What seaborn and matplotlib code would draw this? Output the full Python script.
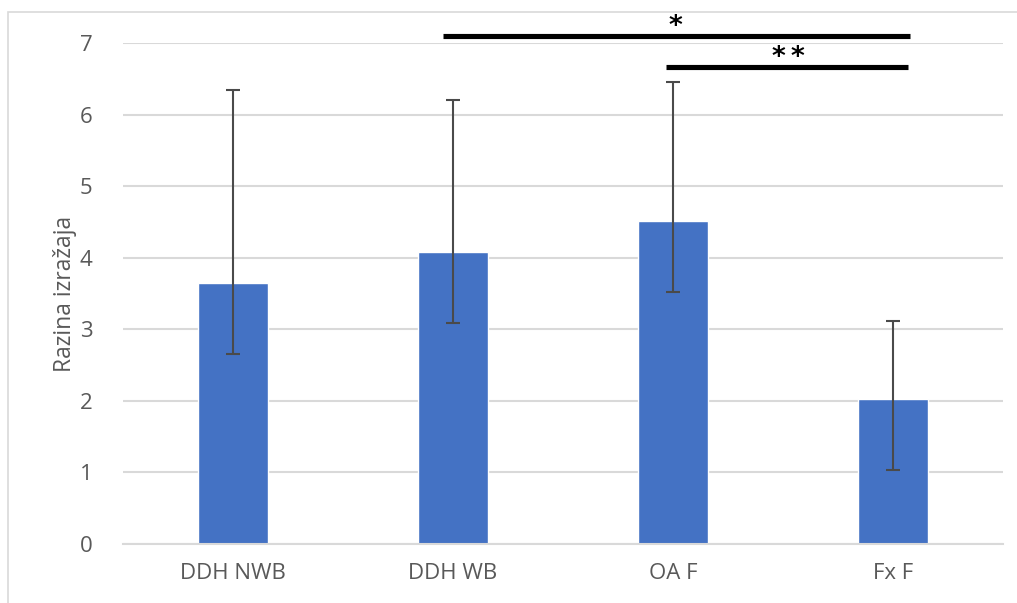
import matplotlib
matplotlib.use("Agg")
import matplotlib.pyplot as plt
import seaborn as sns
import pandas as pd
from matplotlib.patches import Rectangle

# values
groups = ["DDH NWB", "DDH WB", "OA F", "Fx F"]
means = [3.65, 4.08, 4.52, 2.03]
err_low = [1.0, 0.99, 1.0, 1.0]
err_high = [2.69, 2.12, 1.93, 1.08]

# significance bars: (start, end, level, label)
sig_start = [0.955, 1.97]
sig_end = [3.08, 3.07]
sig_level = [7.1, 6.67]
sig_label = ["*", "**"]
sig_text_x = [2.01, 2.525]

df = pd.DataFrame({"group": groups, "mean": means})

sns.set_theme(style="white")
plt.rcParams["font.family"] = ["Open Sans", "DejaVu Sans"]

fig = plt.figure(figsize=(10.17, 6.03), dpi=100)
ax = fig.add_axes([0.121, 0.0978, 0.865, 0.8309])

grid_c = "#d9d9d9"
text_c = "#595959"

sns.barplot(data=df, x="group", y="mean", color="#4472C4", width=0.32,
            saturation=1, errorbar=None, ax=ax, zorder=2)
ax.errorbar(range(len(groups)), means, yerr=[err_low, err_high], fmt="none",
            ecolor="#4a4a4a", elinewidth=1.5, capsize=5, capthick=1.5, zorder=3)

ax.set_ylim(0, 7)
ax.set_xlim(-0.5, 3.5)
ax.set_yticks(range(0, 8))
ax.yaxis.grid(True, color=grid_c, linewidth=1.5, zorder=0)
ax.set_axisbelow(True)
for s in ["top", "right", "left"]:
    ax.spines[s].set_visible(False)
ax.spines["bottom"].set_color(grid_c)
ax.spines["bottom"].set_linewidth(1.5)
ax.tick_params(axis="both", length=0, labelsize=16, colors=text_c)
ax.tick_params(axis="x", pad=14)
ax.tick_params(axis="y", pad=22)
ax.set_xlabel("")
ax.set_ylabel("Razina izražaja", fontsize=16.5, color=text_c, labelpad=2)

for x0, x1, lvl, lab, tx in zip(sig_start, sig_end, sig_level, sig_label, sig_text_x):
    ax.plot([x0, x1], [lvl, lvl], color="black", linewidth=3.7,
            solid_capstyle="butt", clip_on=False, zorder=4)
    ax.text(tx, lvl + 0.02, "\u2009".join(lab), ha="center", va="baseline", fontsize=19,
            fontweight="bold", color="black", family="DejaVu Sans", clip_on=False)

# outer chart frame
fig.patches.append(Rectangle((8 / 1017, -0.01), 1.1, 1 - 12 / 603 + 0.01,
                             transform=fig.transFigure, fill=False,
                             edgecolor=grid_c, linewidth=1.2))

fig.savefig("out.png", dpi=100)
